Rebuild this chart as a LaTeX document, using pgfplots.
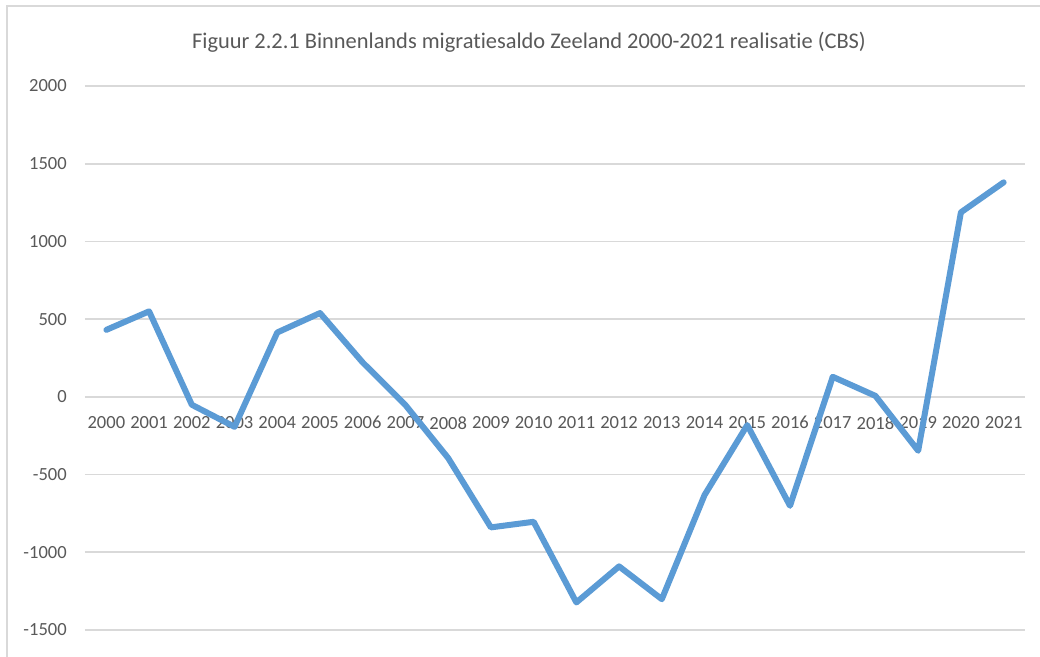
\documentclass[border=0pt]{standalone}
\usepackage{pgfplots}
\pgfplotsset{compat=1.18}
\usepackage{fontspec}
\setmainfont{Carlito}[Ligatures={NoCommon}]
\definecolor{lineblue}{HTML}{5B9BD5}
\definecolor{gridgray}{HTML}{D9D9D9}
\definecolor{txtgray}{HTML}{595959}
\begin{document}
\begin{tikzpicture}
\useasboundingbox (0,0) rectangle (780pt,492.75pt);
\fill[white] (0,0) rectangle (780pt,492.75pt);
\draw[gridgray, line width=1.5pt] (5.25pt,-20pt) -- (5.25pt,488.6pt) -- (800pt,488.6pt);
\node[txtgray, font=\fontsize{16.8pt}{20pt}\selectfont, anchor=center] at (396.75pt,461.25pt) {Figuur 2.2.1 Binnenlands migratiesaldo Zeeland 2000-2021 realisatie (CBS)};
\begin{axis}[
  at={(63.75pt,0pt)}, anchor=south west,
  scale only axis, width=705pt, height=428.25pt,
  xmin=-0.5, xmax=21.5, ymin=-1674, ymax=2000,
  axis x line=middle, axis y line=left,
  axis line style={draw=none, -},
  hide obscured x ticks=false, hide obscured y ticks=false,
  major tick length=0pt,
  xtick={0,...,21},
  xticklabels={2000,2001,2002,2003,2004,2005,2006,2007,2008,2009,2010,2011,2012,2013,2014,2015,2016,2017,2018,2019,2020,2021},
  ytick={-1500,-1000,-500,0,500,1000,1500,2000},
  ymajorgrids, grid style={gridgray, line width=1.2pt},
  tick label style={txtgray, font=\fontsize{13.9pt}{16pt}\selectfont, inner sep=0pt},
  xticklabel style={anchor=north, yshift=-14.5pt},
  yticklabel style={anchor=east, xshift=-13.5pt},
  /pgf/number format/assume math mode=true,
  /pgf/number format/.cd, 1000 sep={},
  clip=false,
]
\addplot[lineblue, line width=4.5pt, line cap=round, line join=round] coordinates {
(0,431) (1,550) (2,-51) (3,-193) (4,414) (5,539) (6,221) (7,-53)
(8,-394) (9,-840) (10,-804) (11,-1323) (12,-1091) (13,-1302) (14,-632)
(15,-182) (16,-701) (17,129) (18,6) (19,-347) (20,1187) (21,1380)
};
\end{axis}
\end{tikzpicture}
\end{document}
